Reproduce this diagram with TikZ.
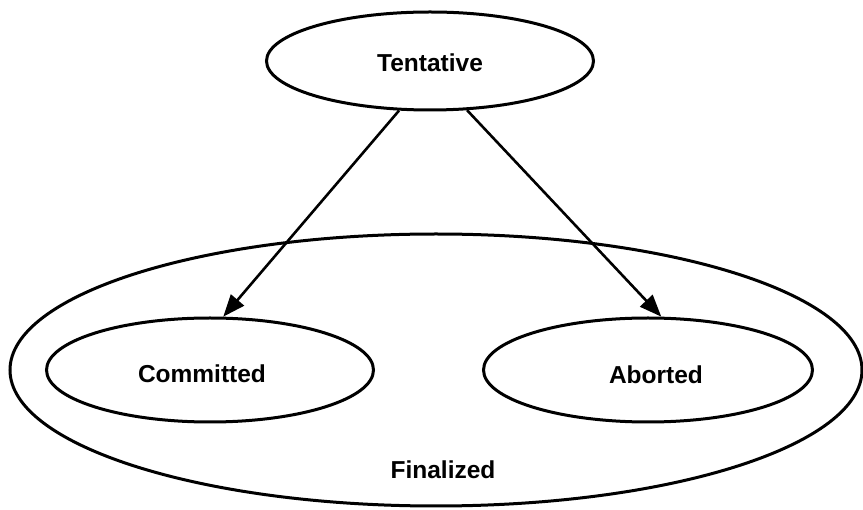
\documentclass[tikz,border=0pt]{standalone}
\usepackage{fontspec}
\setmainfont{Liberation Sans}
\usetikzlibrary{shapes.geometric,arrows.meta}
\begin{document}
\begin{tikzpicture}[x=1pt,y=-1pt,
  state/.style={ellipse,draw=black,line width=3pt,inner sep=0pt},
  lbl/.style={font=\fontsize{24.5}{28}\selectfont\bfseries,anchor=base,inner sep=0pt},
  trans/.style={draw=black,line width=2.6pt,-{Triangle[length=22pt,width=17pt]}}]
\useasboundingbox (0,0) rectangle (863,510);
% outer state grouping the final states
\node[state,minimum width=852,minimum height=272] (fin) at (436,370) {};
\node[lbl] (finl) at (443,479) {Finalized};
% the three states
\node[state,minimum width=327,minimum height=98] (ten) at (430,61) {};
\node[lbl] (tenl) at (430,72) {Tentative};
\node[state,minimum width=327,minimum height=104] (com) at (210,370) {};
\node[lbl] (coml) at (202,383) {Committed};
\node[state,minimum width=329,minimum height=104] (abo) at (648,370) {};
\node[lbl] (abol) at (656,384) {Aborted};
% transitions
\draw[trans] (ten.238) -- (com.76);
\draw[trans] (ten.307) -- (abo.76);
\end{tikzpicture}
\end{document}
